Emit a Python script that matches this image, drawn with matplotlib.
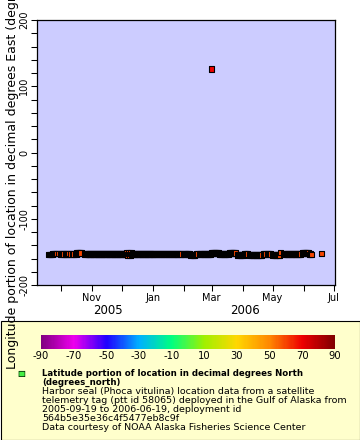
import matplotlib
matplotlib.use("Agg")
import matplotlib.dates as mdates
import matplotlib.pyplot as plt
import numpy as np
import pandas as pd
from matplotlib.colors import LinearSegmentedColormap, Normalize
from matplotlib.patches import Rectangle
from matplotlib.ticker import MultipleLocator

plt.rcParams["axes.unicode_minus"] = False

# one longitude fix per day starting at track_start, None = no fix that day
track_start = "2005-09-19"
track_lon = [
    -153.6, -153.5, -153.6, -153.6, -152.6, -152.7, -152.6, -152.6, -152.6, None,
    -152.6, None, -153.0, -153.1, -152.9, -153.0, None, -153.0, -153.1, -153.0,
    -152.9, None, -153.0, None, -153.0, -153.1, None, -153.0, -151.5, -151.6,
    -151.5, -151.4, -151.5, None, None, None, -153.0, -153.1, -152.9, -153.0,
    -153.0, -153.1, -153.0, -152.9, -153.0, -153.0, -153.1, -153.0, -152.9, -153.0,
    -153.0, -153.1, -153.0, -153.0, -152.9, -153.0, -153.1, -153.0, -153.0, -152.9,
    -153.0, -153.0, -153.1, -153.0, -152.9, -153.0, -153.0, -153.1, -153.0, -153.0,
    -152.9, -153.0, -153.1, -153.0, -153.0, -152.9, -153.0, -153.0, -151.5, -154.5,
    -151.5, -154.5, -151.6, -154.4, -153.0, -153.1, -153.0, -152.9, -153.0, -153.0,
    -153.1, -153.0, -152.9, -153.0, -153.0, -153.1, -153.0, -153.0, -152.9, -153.0,
    -153.0, -153.1, -153.0, -152.9, -153.0, -153.0, -153.1, -153.0, -153.0, -152.9,
    -153.0, -153.1, -153.0, -153.0, -152.9, -153.0, -153.0, -153.1, -153.0, -152.9,
    -153.0, -153.0, -153.1, -153.0, -152.9, -153.0, -153.0, -153.1, -153.0, -153.0,
    -152.9, -153.0, -153.1, -153.0, None, -153.0, -153.0, -153.1, -152.9, -153.0,
    -153.0, -153.1, -154.5, -154.4, -154.5, -154.6, -154.5, -154.4, -153.0, -153.0,
    None, -153.0, -153.1, -152.9, -153.0, -153.0, -153.1, -153.0, -152.9, -153.0,
    -153.0, -153.1, -153.0, -151.5, -151.6, -151.5, -151.4, -151.5, -151.5, -151.6,
    -151.5, -153.0, -153.1, -153.0, -152.9, -153.0, -153.0, -153.1, -153.0, -152.9,
    -153.0, -151.5, -151.6, -151.5, -151.4, -151.5, -151.5, -151.6, None, -154.5,
    -154.4, -154.5, -154.6, -154.5, -154.4, -154.5, -153.0, -153.1, -152.9, -153.0,
    None, -154.5, -154.4, -154.5, -154.6, -154.5, -154.4, -154.5, -154.5, -154.6,
    -154.5, -154.4, -154.5, -154.5, None, -153.0, -153.1, -153.0, None, -153.0,
    -152.9, -153.0, -153.1, None, -154.5, -154.4, -154.5, -154.6, -154.5, -154.4,
    -154.5, -154.5, -150.5, None, None, -153.0, -153.1, -152.9, -153.0, -153.0,
    -153.1, -153.0, -152.9, -153.0, -153.0, -153.1, -153.0, -153.0, -152.9, -153.0,
    -153.1, -153.0, -153.0, None, -151.5, -151.6, -151.5, -151.4, -151.5, -151.5,
    -151.6, -153.5, -153.4, -153.5, None, None, None, None, None, None,
    None, None, None, -152.5,
]
track_lat = 59.3

# the one stray fix far to the west
outlier_time = ["2006-03-01"]
outlier_lon = [126.0]
outlier_lat = [69.0]

lon_ticks = [-200, -100, 0, 100, 200]

palette_ticks = [-90, -70, -50, -30, -10, 10, 30, 50, 70, 90]
palette_colors = ["#800080", "#ee00ee", "#2000ff", "#00b0ff", "#00ff80",
                  "#a0f000", "#ffd700", "#ff8800", "#ee0000", "#800000"]

legend_title = ["Latitude portion of location in decimal degrees North",
                "(degrees_north)"]
legend_lines = [
    "Harbor seal (Phoca vitulina) location data from a satellite",
    "telemetry tag (ptt id 58065) deployed in the Gulf of Alaska from",
    "2005-09-19 to 2006-06-19, deployment id",
    "564b5e35e36c4f5477eb8c9f",
    "Data courtesy of NOAA Alaska Fisheries Science Center",
]


def main():
    times = pd.date_range(track_start, periods=len(track_lon), freq="D")
    lon = np.array(track_lon, dtype=float)
    ok = ~np.isnan(lon)
    df = pd.DataFrame({"time": times[ok], "lon": lon[ok], "lat": track_lat})
    extra = pd.DataFrame({"time": pd.to_datetime(outlier_time),
                          "lon": outlier_lon, "lat": outlier_lat})
    df = pd.concat([df, extra]).sort_values("time")

    pos = [(v + 90) / 180 for v in palette_ticks]
    cmap = LinearSegmentedColormap.from_list("rainbow", list(zip(pos, palette_colors)))
    norm = Normalize(-90, 90)

    fig = plt.figure(figsize=(3.6, 4.4), dpi=100)
    fig.add_artist(Rectangle((0.5 / 360, 0.5 / 440), 359 / 360, 118.5 / 440,
                             transform=fig.transFigure, facecolor="#ffffcc",
                             edgecolor="black", linewidth=0.8, zorder=-1))

    ax = fig.add_axes([37 / 360, 1 - 285 / 440, 298 / 360, 265 / 440])
    ax.set_facecolor("#ccccff")
    ax.scatter(df["time"], df["lon"], c=df["lat"], cmap=cmap, norm=norm,
               marker="s", s=15, edgecolors="black", linewidths=0.8, zorder=3)

    ax.set_ylim(-200, 200)
    ax.yaxis.set_minor_locator(MultipleLocator(20))
    ax.set_xlim(pd.Timestamp("2005-09-07"), pd.Timestamp("2006-07-02 12:00"))
    ax.xaxis.set_major_locator(mdates.MonthLocator(bymonth=[1, 3, 5, 7, 9, 11]))
    ax.xaxis.set_minor_locator(mdates.MonthLocator())
    ax.xaxis.set_major_formatter(mdates.DateFormatter("%b"))

    ax.tick_params(which="both", direction="out", length=4, width=0.75,
                   labelsize=7, pad=1.5)
    ax.set_yticks(lon_ticks, [str(v) for v in lon_ticks], rotation=90, va="center")
    jan = mdates.date2num(pd.Timestamp("2006-01-01"))
    for tick in ax.xaxis.get_major_ticks():
        if abs(tick.get_loc() - jan) < 1:
            tick.tick1line.set_markeredgewidth(2.5)
            tick.tick1line.set_markersize(6)
    for sp in ax.spines.values():
        sp.set_linewidth(0.9)

    for year, when in [("2005", "2005-11-17"), ("2006", "2006-04-03")]:
        ax.text(pd.Timestamp(when), -0.098, year, transform=ax.get_xaxis_transform(),
                ha="center", va="center", fontsize=8.5)

    ax.set_ylabel("Longitude portion of location in decimal degrees East (degrees_east)",
                  fontsize=9)
    ax.yaxis.set_label_coords(-0.06, 0.5)

    cax = fig.add_axes([41 / 360, 1 - 349 / 440, 294 / 360, 14 / 440])
    cb = fig.colorbar(plt.cm.ScalarMappable(norm=norm, cmap=cmap), cax=cax,
                      orientation="horizontal", ticks=palette_ticks)
    cb.outline.set_visible(False)
    cax.tick_params(length=0, labelsize=7.2, pad=1.5)

    fig.text(21 / 360, 1 - 373 / 440, "\u25a0", color="#44ee44", fontsize=6,
             ha="center", va="center")
    fig.text(21 / 360, 1 - 373 / 440, "\u25a1", color="black", fontsize=6,
             ha="center", va="center")
    for i, line in enumerate(legend_title):
        fig.text(42 / 360, 1 - (373 + 9.2 * i) / 440, line, fontsize=6.2,
                 fontweight="bold", ha="left", va="center")
    for i, line in enumerate(legend_lines):
        fig.text(42 / 360, 1 - (391 + 9 * i) / 440, line, fontsize=6.8,
                 ha="left", va="center")

    fig.savefig("out.png", dpi=100)
    plt.close(fig)


if __name__ == "__main__":
    main()
